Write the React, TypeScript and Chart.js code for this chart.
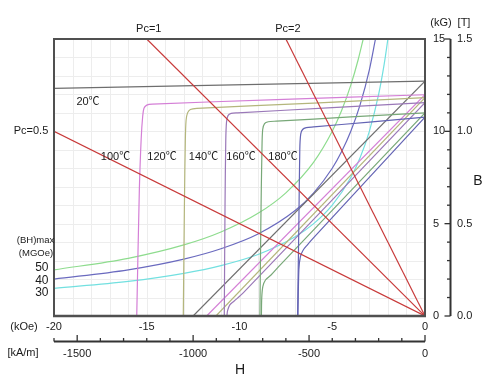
import React, { useEffect, useRef } from "react";
import { Chart, registerables } from "chart.js";

Chart.register(...registerables);

type Pt = [number, number];

// H in kOe, B / J in kG
// Intrinsic (J-H) curves
const J_20C: Pt[] = [[-20, 12.33], [0, 12.72]];
const J_100C: Pt[] = [[-15.54, 0], [-15.4, 6.8], [-15.3, 9.6], [-15.22, 10.8], [-15.15, 11.25], [-15.0, 11.42], [-14.7, 11.47], [-8, 11.72], [0, 11.98]];
const J_120C: Pt[] = [[-13.03, 0], [-12.97, 6], [-12.92, 9.5], [-12.88, 10.6], [-12.8, 11.0], [-12.65, 11.18], [-12.3, 11.24], [-6, 11.53], [0, 11.82]];
const J_140C: Pt[] = [[-10.82, 0], [-10.78, 6], [-10.74, 9.5], [-10.7, 10.5], [-10.62, 10.85], [-10.45, 10.97], [-10.1, 11.0], [-5, 11.28], [0, 11.55]];
const J_160C: Pt[] = [[-8.9, 0], [-8.85, 5], [-8.79, 9], [-8.75, 10.1], [-8.65, 10.42], [-8.45, 10.52], [-8, 10.55], [-4, 10.78], [0, 11.0]];
const J_180C: Pt[] = [[-6.87, 0], [-6.8, 5], [-6.75, 9], [-6.7, 9.85], [-6.6, 10.1], [-6.4, 10.2], [-6, 10.24], [-3, 10.5], [0, 10.77]];

// Normal (B-H) curves
const B_20C: Pt[] = [[-12.5, 0], [0, 12.72]];
const B_100C: Pt[] = [[-11.77, 0], [0, 11.98]];
const B_120C: Pt[] = [[-11.27, 0], [0, 11.82]];
const B_140C: Pt[] = [[-10.68, 0], [-10.64, 0.3], [-10.52, 0.6], [-10.3, 0.8], [-9.8, 1.25], [0, 11.55]];
const B_160C: Pt[] = [[-8.82, 0], [-8.8, 1.0], [-8.74, 1.6], [-8.6, 1.95], [-8.3, 2.22], [-7.8, 2.77], [0, 11.0]];
const B_180C: Pt[] = [[-6.85, 0], [-6.8, 2.5], [-6.72, 3.2], [-6.58, 3.55], [-6.35, 3.84], [-6.0, 4.24], [0, 10.77]];

// (BH)max iso-energy curves
const BH_50: Pt[] = [[-20, 2.5], [-16, 3.125], [-13, 3.85], [-11, 4.55], [-9, 5.56], [-7.5, 6.67], [-6, 8.33], [-5, 10], [-4.5, 11.11], [-4, 12.5], [-3.6, 13.89], [-3.33, 15]];
const BH_40: Pt[] = [[-20, 2], [-16, 2.5], [-13, 3.08], [-11, 3.64], [-9, 4.44], [-7, 5.71], [-6, 6.67], [-5, 8], [-4.5, 8.89], [-4, 10], [-3.5, 11.43], [-3, 13.33], [-2.67, 15]];
const BH_30: Pt[] = [[-20, 1.5], [-16, 1.875], [-13, 2.31], [-11, 2.73], [-9, 3.33], [-7, 4.29], [-6, 5], [-5, 6], [-4, 7.5], [-3.5, 8.57], [-3, 10], [-2.5, 12], [-2.2, 13.64], [-2, 15]];

// Permeance coefficient load lines
const PC_05: Pt[] = [[-20, 10], [0, 0]];
const PC_1: Pt[] = [[-15, 15], [0, 0]];
const PC_2: Pt[] = [[-7.5, 15], [0, 0]];

// Axis ticks / labels
const H_TICKS = [-20, -15, -10, -5, 0];
const H_TICK_LABELS = ["-20", "-15", "-10", "-5", "0"];
const KAM_MAJOR = [-1500, -1000, -500, 0];
const KAM_LABELS = ["-1500", "-1000", "-500", "0"];
const KAM_MINOR = [-1600, -1400, -1300, -1200, -1100, -900, -800, -700, -600, -400, -300, -200, -100];
const B_MAJOR = [0, 5, 10, 15];
const B_LABELS = ["0", "5", "10", "15"];
const T_MAJOR = [0, 0.5, 1.0, 1.5];
const T_LABELS = ["0.0", "0.5", "1.0", "1.5"];
const B_MINOR = [1, 2, 3, 4, 6, 7, 8, 9, 11, 12, 13, 14];
const TEMP_LABELS = ["20℃", "100℃", "120℃", "140℃", "160℃", "180℃"];
const BH_LABELS = ["50", "40", "30"];
const PC_LABELS = ["Pc=0.5", "Pc=1", "Pc=2"];

const C_GRAY = "#6e6e6e";
const C_PINK = "#d47fd6";
const C_OLIVE = "#b4b67c";
const C_PURPLE = "#9a78b8";
const C_GREEN = "#78a878";
const C_BLUE = "#6464b4";
const C_BH50 = "#8edc8e";
const C_BH40 = "#6a6abf";
const C_BH30 = "#72e0e0";
const C_RED = "#c83a3a";

const toXY = (a: Pt[]) => a.map(([x, y]) => ({ x, y }));

const FONT = '"Liberation Sans", Arial, "Noto Sans CJK SC", sans-serif';

const decor = {
  id: "decor",
  beforeDatasetsDraw(chart: any) {
    const { ctx, chartArea: a, scales } = chart;
    const x = scales.x, y = scales.y;
    ctx.save();
    ctx.strokeStyle = "#ededed";
    ctx.lineWidth = 1;
    for (let h = -19; h < 0; h += 1) {
      const px = Math.round(x.getPixelForValue(h)) + 0.5;
      ctx.beginPath(); ctx.moveTo(px, a.top); ctx.lineTo(px, a.bottom); ctx.stroke();
    }
    for (let b = 1; b < 15; b += 1) {
      const py = Math.round(y.getPixelForValue(b)) + 0.5;
      ctx.beginPath(); ctx.moveTo(a.left, py); ctx.lineTo(a.right, py); ctx.stroke();
    }
    ctx.restore();
  },
  afterDatasetsDraw(chart: any) {
    const { ctx, chartArea: a, scales } = chart;
    const x = scales.x, y = scales.y, xk = scales.xk, yt = scales.yt;
    ctx.save();
    // frame
    ctx.strokeStyle = "#505050";
    ctx.lineWidth = 2;
    ctx.strokeRect(a.left, a.top, a.right - a.left, a.bottom - a.top);
    ctx.lineWidth = 2.5;
    ctx.beginPath(); ctx.moveTo(a.left - 1, a.bottom); ctx.lineTo(a.right + 1, a.bottom); ctx.stroke();

    ctx.fillStyle = "#1a1a1a";
    ctx.textBaseline = "middle";
    ctx.font = "11px " + FONT;

    // H (kOe) tick labels
    ctx.textAlign = "center";
    H_TICKS.forEach((v, i) => ctx.fillText(H_TICK_LABELS[i], x.getPixelForValue(v), a.bottom + 11));
    ctx.fillText("(kOe)", 24, a.bottom + 11);

    // kA/m axis
    const ay = a.bottom + 25.5;
    ctx.strokeStyle = "#333";
    ctx.lineWidth = 2;
    ctx.beginPath(); ctx.moveTo(xk.getPixelForValue(-1600), ay); ctx.lineTo(xk.getPixelForValue(0), ay); ctx.stroke();
    ctx.lineWidth = 1.3;
    KAM_MINOR.forEach((v) => {
      const px = xk.getPixelForValue(v);
      ctx.beginPath(); ctx.moveTo(px, ay); ctx.lineTo(px, ay - 3.5); ctx.stroke();
    });
    KAM_MAJOR.forEach((v, i) => {
      const px = xk.getPixelForValue(v);
      ctx.beginPath(); ctx.moveTo(px, ay); ctx.lineTo(px, ay - 6.5); ctx.stroke();
      ctx.fillText(KAM_LABELS[i], px, ay + 12);
    });
    ctx.fillText("[kA/m]", 23, ay + 11);

    // B axis on the right
    const bx = a.right + 25.5;
    ctx.lineWidth = 2;
    ctx.beginPath(); ctx.moveTo(bx, y.getPixelForValue(0)); ctx.lineTo(bx, y.getPixelForValue(15)); ctx.stroke();
    ctx.lineWidth = 1.3;
    B_MINOR.forEach((v) => {
      const py = y.getPixelForValue(v);
      ctx.beginPath(); ctx.moveTo(bx, py); ctx.lineTo(bx - 3.5, py); ctx.stroke();
    });
    ctx.textAlign = "left";
    B_MAJOR.forEach((v, i) => {
      const py = y.getPixelForValue(v);
      ctx.beginPath(); ctx.moveTo(bx, py); ctx.lineTo(bx - 6, py); ctx.stroke();
      ctx.fillText(B_LABELS[i], a.right + 8, py);
    });
    T_MAJOR.forEach((v, i) => ctx.fillText(T_LABELS[i], a.right + 32, yt.getPixelForValue(v)));
    ctx.textAlign = "center";
    ctx.fillText("(kG)", a.right + 16, a.top - 16);
    ctx.fillText("[T]", a.right + 39, a.top - 16);

    // axis names
    ctx.font = "14px " + FONT;
    ctx.fillText("H", 240, ay + 29);
    ctx.fillText("B", a.right + 53, 181);

    // Pc labels
    ctx.font = "11px " + FONT;
    ctx.fillText(PC_LABELS[0], 31, y.getPixelForValue(10));
    ctx.fillText(PC_LABELS[1], x.getPixelForValue(-15) + 2, a.top - 10);
    ctx.fillText(PC_LABELS[2], x.getPixelForValue(-7.5) + 2, a.top - 10);

    // temperature labels
    ctx.fillText(TEMP_LABELS[0], 88, 102);
    const tx = [115.5, 162, 203.5, 241, 283];
    tx.forEach((px, i) => ctx.fillText(TEMP_LABELS[i + 1], px, 157));

    // (BH)max labels
    ctx.font = "9.5px " + FONT;
    ctx.fillText("(BH)max", 35.5, 240);
    ctx.fillText("(MGOe)", 36, 253);
    ctx.font = "12px " + FONT;
    ctx.textAlign = "right";
    BH_LABELS.forEach((t, i) => ctx.fillText(t, 48.5, 268 + i * 12.2));
    ctx.restore();
  },
};

const line = (data: Pt[], color: string, tension = 0.3, mono = false, width = 1.2) => ({
  data: toXY(data),
  borderColor: color,
  backgroundColor: color,
  borderWidth: width,
  pointRadius: 0,
  fill: false,
  tension,
  cubicInterpolationMode: mono ? "monotone" : "default",
  showLine: true,
});

export default function App() {
  const ref = useRef<HTMLCanvasElement | null>(null);
  useEffect(() => {
    if (!ref.current) return;
    const chart = new Chart(ref.current, {
      type: "line",
      data: {
        datasets: [
          line(PC_05, C_RED, 0),
          line(PC_1, C_RED, 0),
          line(PC_2, C_RED, 0),
          line(J_20C, C_GRAY, 0),
          line(J_100C, C_PINK),
          line(J_120C, C_OLIVE),
          line(J_140C, C_PURPLE),
          line(J_160C, C_GREEN),
          line(J_180C, C_BLUE),
          line(B_20C, C_GRAY, 0),
          line(B_100C, C_PINK, 0),
          line(B_120C, C_OLIVE, 0),
          line(B_140C, C_PURPLE),
          line(B_160C, C_GREEN),
          line(B_180C, C_BLUE),
          line(BH_50, C_BH50, 0.4, true),
          line(BH_40, C_BH40, 0.4, true),
          line(BH_30, C_BH30, 0.4, true),
        ] as any,
      },
      options: {
        animation: false,
        responsive: false,
        devicePixelRatio: 1,
        parsing: true,
        layout: { padding: { left: 54, right: 75, top: 39, bottom: 64 } },
        plugins: { legend: { display: false }, tooltip: { enabled: false }, title: { display: false } },
        events: [],
        scales: {
          x: { type: "linear", min: -20, max: 0, display: false },
          y: { type: "linear", min: 0, max: 15, display: false },
          xk: { type: "linear", axis: "x", position: "bottom", min: -1600, max: 0, display: false },
          yt: { type: "linear", axis: "y", position: "right", min: 0, max: 1.5, display: false },
        },
      } as any,
      plugins: [decor],
    });
    return () => chart.destroy();
  }, []);
  return (
    <div style={{ position: "absolute", left: 0, top: 0, width: 500, height: 380, background: "#fff" }}>
      <canvas ref={ref} width={500} height={380} style={{ display: "block", width: 500, height: 380 }} />
    </div>
  );
}
